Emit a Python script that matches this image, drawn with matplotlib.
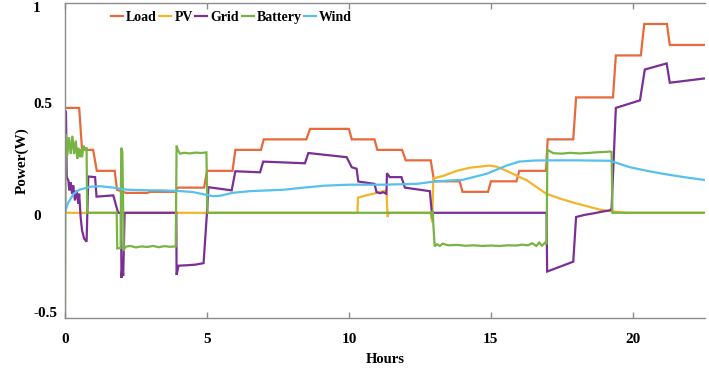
import matplotlib
matplotlib.use("Agg")
import matplotlib.pyplot as plt
from matplotlib.transforms import ScaledTranslation

plt.rcParams['font.family'] = ['Liberation Serif', 'DejaVu Serif']
plt.rcParams['font.weight'] = 'bold'
plt.rcParams['axes.unicode_minus'] = False

# ---------------- data (hours, W) ----------------
load_t = [0, 0.5, 0.6, 0.99, 1.12, 1.75, 1.83, 2.15, 2.9, 3.0, 3.9, 3.95, 4.9, 5.0, 5.9, 6.0,
          6.9, 7.0, 8.5, 8.63, 10.0, 10.1, 10.9, 11.0, 11.87, 12.0, 12.88, 13.0, 13.9, 14.0,
          14.9, 15.0, 15.9, 16.0, 16.94, 17.0, 17.9, 18.0, 19.3, 19.4, 20.28, 20.4, 21.2, 21.3, 22.5]
load_v = [0.5, 0.5, 0.3, 0.3, 0.2, 0.2, 0.11, 0.095, 0.095, 0.1, 0.1, 0.12, 0.12, 0.2, 0.2, 0.3,
          0.3, 0.35, 0.35, 0.4, 0.4, 0.35, 0.35, 0.3, 0.3, 0.25, 0.25, 0.15, 0.15, 0.1,
          0.1, 0.15, 0.15, 0.2, 0.2, 0.35, 0.35, 0.55, 0.55, 0.75, 0.75, 0.9, 0.9, 0.8, 0.8]

pv_t = [0, 10.3, 10.32, 10.6, 11.0, 11.27, 11.33, 11.36, 11.4, 12.88, 12.93, 12.97, 13.0, 13.3,
        13.8, 14.26, 14.96, 15.2, 15.55, 16.26, 16.96, 17.5, 18.0, 18.84, 19.3, 19.8, 22.5]
pv_v = [0, 0, 0.072, 0.083, 0.095, 0.105, 0.08, -0.02, 0, 0, -0.045, 0.16, 0.165, 0.175,
        0.2, 0.215, 0.225, 0.22, 0.2, 0.155, 0.09, 0.065, 0.045, 0.015, 0.006, 0, 0]

grid_t = [0, 0.035, 0.06, 0.12, 0.15, 0.2, 0.25, 0.29, 0.35, 0.41, 0.47, 0.5, 0.55, 0.6, 0.67,
          0.76, 0.82, 1.06, 1.11, 1.7, 1.87, 1.97, 1.99, 2.02, 2.05, 2.1, 3.92, 3.93, 4.0, 4.3,
          4.6, 4.88, 5.0, 5.05, 5.87, 6.0, 6.87, 6.98, 8.45, 8.57, 9.92, 10.1, 10.27, 10.33,
          10.9, 10.97, 11.1, 11.2, 11.32, 11.34, 11.44, 11.85, 11.97, 12.85, 12.92, 16.96,
          16.98, 17.9, 18.0, 18.3, 18.6, 18.9, 19.2, 19.25, 19.4, 20.25, 20.42, 21.19, 21.3, 22.5]
grid_v = [0.49, 0.48, 0.17, 0.154, 0.107, 0.146, 0.091, 0.13, 0.059, 0.107, 0.044, 0.091, -0.02,
          -0.083, -0.122, -0.138, 0.173, 0.17, 0.077, 0.083, 0.0, 0.0, -0.31, -0.25, -0.3, 0.0,
          0.0, -0.296, -0.252, -0.25, -0.247, -0.24, 0.0, 0.122, 0.107, 0.198, 0.193, 0.244,
          0.236, 0.285, 0.265, 0.217, 0.21, 0.149, 0.138, 0.099, 0.093, 0.098, 0.091, 0.189,
          0.17, 0.17, 0.12, 0.103, 0.0, 0.0, -0.28, -0.233, -0.02, -0.01, -0.003, 0.005,
          0.012, 0.02, 0.5, 0.536, 0.683, 0.712, 0.62, 0.64]

bat_t = [0, 0.02, 0.035, 0.08, 0.14, 0.2, 0.26, 0.32, 0.38, 0.43, 0.47, 0.53, 0.56, 0.6, 0.65,
         0.7, 0.76, 0.78, 1.82, 1.84, 1.96, 1.98, 2.02, 2.07, 2.12, 2.3, 2.5, 2.7, 2.9, 3.1,
         3.3, 3.5, 3.7, 3.9, 3.93, 3.97, 4.05, 4.2, 4.4, 4.6, 4.8, 4.98, 5.02, 12.9, 12.93,
         12.95, 12.97, 13.02, 13.1, 13.2, 13.3, 13.5, 13.8, 14.1, 14.4, 14.7, 15.0, 15.3, 15.6,
         15.9, 16.1, 16.3, 16.45, 16.6, 16.7, 16.8, 16.9, 16.96, 16.99, 17.2, 17.5, 17.8, 18.1,
         18.4, 18.7, 19.0, 19.2, 19.25, 19.28, 22.5]
bat_v = [-0.5, 0.2, 0.375, 0.273, 0.36, 0.28, 0.367, 0.28, 0.344, 0.257, 0.31, 0.265, 0.304,
         0.265, 0.32, 0.296, 0.312, 0.0, 0.0, -0.17, -0.168, 0.31, 0.29, -0.18, -0.162, -0.158,
         -0.165, -0.16, -0.163, -0.158, -0.164, -0.159, -0.162, -0.16, 0.32, 0.3, 0.282, 0.286,
         0.283, 0.287, 0.285, 0.288, 0.0, 0.0, -0.03, 0.01, -0.05, -0.16, -0.15, -0.158, -0.147,
         -0.155, -0.153, -0.157, -0.155, -0.158, -0.156, -0.158, -0.155, -0.156, -0.152, -0.155,
         -0.145, -0.158, -0.142, -0.157, -0.143, -0.15, 0.3, 0.284, 0.282, 0.286, 0.283, 0.285,
         0.288, 0.29, 0.292, 0.29, 0.0, 0.0]

wind_t = [0, 0.1, 0.3, 0.5, 0.9, 1.2, 1.7, 2.2, 3.0, 3.35, 4.0, 4.5, 5.0, 5.2, 5.46, 5.9, 6.5,
          7.7, 8.27, 9.1, 10.0, 11.2, 12.4, 13.0, 13.55, 14.0, 14.85, 15.55, 16.0, 16.5, 17.0,
          18.0, 19.2, 19.9, 20.5, 21.06, 21.8, 22.5]
wind_v = [0, 0.045, 0.09, 0.11, 0.124, 0.127, 0.12, 0.11, 0.107, 0.107, 0.104, 0.099, 0.085,
          0.079, 0.081, 0.095, 0.103, 0.11, 0.118, 0.129, 0.134, 0.134, 0.138, 0.149, 0.154,
          0.157, 0.186, 0.225, 0.244, 0.249, 0.25, 0.25, 0.248, 0.217, 0.2, 0.186, 0.17, 0.157]

series_names = ["Load", "PV", "Grid", "Battery", "Wind"]
colors = ["#E8693B", "#F2B52B", "#7B2F96", "#78B443", "#56C1EC"]

x_ticks = [0, 5, 10, 15, 20]
y_ticks = [-0.5, 0, 0.5, 1]
y_tick_labels = ["-0.5", "0", "0.5", "1"]

# ---------------- figure ----------------
W, H = 709, 369
fig = plt.figure(figsize=(W / 100, H / 100), dpi=100)
ax = fig.add_axes([65 / W, 1 - 317.7 / H, 640 / W, (317.7 - 3) / H])

data = [(load_t, load_v), (pv_t, pv_v), (grid_t, grid_v), (bat_t, bat_v), (wind_t, wind_v)]
for (t, v), name, c in zip(data, series_names, colors):
    ax.plot(t, v, color=c, lw=1.6, label=name, solid_joinstyle='miter')

ax.set_xlim(0, 22.54)
ax.set_ylim(-0.5, 1.0)

spine_c = "#8C8C8C"
for s in ["left", "bottom", "top"]:
    ax.spines[s].set_color(spine_c)
    ax.spines[s].set_linewidth(1.0)
ax.spines["right"].set_visible(False)

ax.set_xticks(x_ticks)
ax.set_xticklabels([str(v) for v in x_ticks])
ax.tick_params(axis='x', direction='in', length=4.3, width=1.0, color=spine_c,
               top=True, labelsize=11, pad=11)
ax.set_yticks(y_ticks)
ax.set_yticklabels(y_tick_labels)
ax.tick_params(axis='y', length=0, labelsize=11, pad=23)
# small vertical offsets of the y labels as in the reference (pixels, + = down)
y_off_px = {"-0.5": -5.5, "0": 2.5, "0.5": -4.5, "1": 3.5}
for lab, txt in zip(ax.get_yticklabels(), y_tick_labels):
    lab.set_horizontalalignment('left')
    lab.set_transform(lab.get_transform() +
                      ScaledTranslation(0, -y_off_px[txt] / 100, fig.dpi_scale_trans))
for lab in ax.get_xticklabels() + ax.get_yticklabels():
    lab.set_fontweight('bold')

ax.set_xlabel("Hours", fontsize=10.5, fontweight='bold', labelpad=5)
ax.set_ylabel("Power(W)", fontsize=11, fontweight='bold', labelpad=3)

leg = fig.legend(loc='center left', bbox_to_anchor=(104 / W, 1 - 17.5 / H), ncol=5,
                 frameon=False, handlelength=0.85, handletextpad=0.22,
                 columnspacing=0.2, borderpad=0, prop={'weight': 'bold', 'size': 10})

fig.savefig("out.png", dpi=100)
